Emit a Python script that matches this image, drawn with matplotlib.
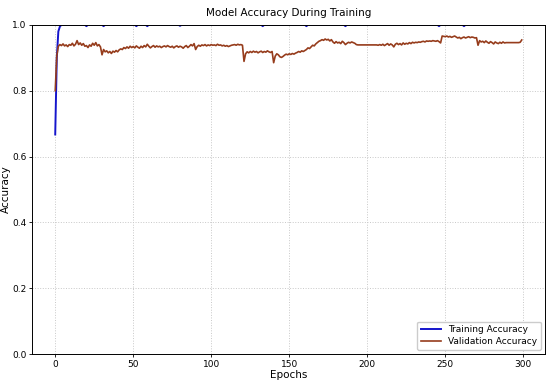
import matplotlib
matplotlib.use("Agg")
import matplotlib.pyplot as plt

epochs = list(range(300))

train_acc = [
    0.667, 0.900, 0.980, 0.995, 1.000, 1.000, 1.000, 1.000, 1.000, 1.000,
    1.000, 1.000, 1.000, 1.000, 1.000, 1.000, 1.000, 1.000, 1.000, 1.000,
    0.996, 1.000, 1.000, 1.000, 1.000, 1.000, 1.000, 1.000, 1.000, 1.000,
    1.000, 0.996, 1.000, 1.000, 1.000, 1.000, 1.000, 1.000, 1.000, 1.000,
    1.000, 1.000, 1.000, 1.000, 1.000, 1.000, 1.000, 1.000, 1.000, 1.000,
    1.000, 1.000, 0.996, 1.000, 1.000, 1.000, 1.000, 1.000, 1.000, 0.996,
    1.000, 1.000, 1.000, 1.000, 1.000, 1.000, 1.000, 1.000, 1.000, 1.000,
    1.000, 1.000, 1.000, 1.000, 1.000, 1.000, 1.000, 1.000, 1.000, 1.000,
    0.997, 1.000, 1.000, 1.000, 1.000, 1.000, 1.000, 1.000, 1.000, 1.000,
    1.000, 1.000, 1.000, 1.000, 1.000, 1.000, 1.000, 1.000, 1.000, 1.000,
    1.000, 1.000, 1.000, 1.000, 1.000, 1.000, 1.000, 1.000, 1.000, 1.000,
    1.000, 1.000, 1.000, 1.000, 1.000, 1.000, 1.000, 1.000, 1.000, 1.000,
    1.000, 1.000, 1.000, 1.000, 1.000, 1.000, 1.000, 1.000, 1.000, 1.000,
    1.000, 1.000, 1.000, 0.996, 1.000, 1.000, 1.000, 1.000, 1.000, 1.000,
    1.000, 1.000, 1.000, 1.000, 1.000, 1.000, 1.000, 1.000, 1.000, 1.000,
    1.000, 1.000, 1.000, 1.000, 1.000, 1.000, 1.000, 1.000, 1.000, 1.000,
    1.000, 0.996, 1.000, 1.000, 1.000, 1.000, 1.000, 1.000, 1.000, 1.000,
    1.000, 1.000, 1.000, 1.000, 1.000, 1.000, 1.000, 1.000, 1.000, 1.000,
    1.000, 1.000, 1.000, 1.000, 1.000, 1.000, 0.996, 1.000, 1.000, 1.000,
    1.000, 1.000, 1.000, 1.000, 1.000, 1.000, 1.000, 1.000, 1.000, 1.000,
    1.000, 1.000, 1.000, 1.000, 1.000, 1.000, 1.000, 1.000, 1.000, 1.000,
    1.000, 1.000, 1.000, 1.000, 1.000, 1.000, 1.000, 1.000, 1.000, 1.000,
    1.000, 1.000, 1.000, 1.000, 1.000, 1.000, 1.000, 1.000, 1.000, 1.000,
    1.000, 1.000, 1.000, 1.000, 1.000, 1.000, 1.000, 1.000, 1.000, 1.000,
    1.000, 1.000, 1.000, 1.000, 1.000, 1.000, 0.996, 1.000, 1.000, 1.000,
    1.000, 1.000, 1.000, 1.000, 1.000, 1.000, 1.000, 1.000, 1.000, 1.000,
    1.000, 1.000, 0.996, 1.000, 1.000, 1.000, 1.000, 1.000, 1.000, 1.000,
    1.000, 1.000, 1.000, 1.000, 1.000, 1.000, 1.000, 1.000, 1.000, 1.000,
    1.000, 1.000, 1.000, 1.000, 1.000, 1.000, 1.000, 1.000, 1.000, 1.000,
    1.000, 1.000, 1.000, 1.000, 1.000, 1.000, 1.000, 1.000, 1.000, 1.000,
]

val_acc = [
    0.800, 0.905, 0.935, 0.940, 0.937, 0.942, 0.936, 0.939, 0.934, 0.940,
    0.938, 0.944, 0.936, 0.941, 0.952, 0.940, 0.945, 0.938, 0.943, 0.935,
    0.937, 0.931, 0.939, 0.935, 0.944, 0.938, 0.946, 0.936, 0.940, 0.933,
    0.909, 0.925, 0.918, 0.921, 0.915, 0.919, 0.913, 0.920, 0.917, 0.922,
    0.918, 0.924, 0.927, 0.925, 0.931, 0.928, 0.933, 0.929, 0.935, 0.931,
    0.934, 0.930, 0.936, 0.932, 0.929, 0.935, 0.931, 0.937, 0.933, 0.941,
    0.935, 0.930, 0.934, 0.937, 0.932, 0.936, 0.933, 0.935, 0.931, 0.934,
    0.936, 0.933, 0.937, 0.934, 0.932, 0.935, 0.930, 0.934, 0.936, 0.932,
    0.935, 0.933, 0.929, 0.934, 0.937, 0.931, 0.935, 0.940, 0.936, 0.943,
    0.925, 0.934, 0.938, 0.935, 0.939, 0.937, 0.940, 0.936, 0.939, 0.937,
    0.940, 0.938, 0.939, 0.937, 0.941, 0.938, 0.939, 0.936, 0.938, 0.935,
    0.937, 0.934, 0.936, 0.938, 0.939, 0.940, 0.938, 0.941, 0.939, 0.940,
    0.938, 0.889, 0.912, 0.918, 0.915, 0.919, 0.916, 0.920, 0.917, 0.919,
    0.915, 0.918, 0.920, 0.916, 0.919, 0.917, 0.921, 0.918, 0.916, 0.919,
    0.885, 0.905, 0.912, 0.909, 0.903, 0.901, 0.904, 0.908, 0.911, 0.909,
    0.912, 0.910, 0.913, 0.911, 0.914, 0.916, 0.919, 0.917, 0.921, 0.919,
    0.922, 0.925, 0.930, 0.928, 0.933, 0.938, 0.936, 0.942, 0.946, 0.950,
    0.952, 0.955, 0.953, 0.957, 0.954, 0.956, 0.951, 0.955, 0.948, 0.944,
    0.949, 0.945, 0.947, 0.943, 0.950, 0.946, 0.940, 0.944, 0.947, 0.945,
    0.948, 0.946, 0.944, 0.940, 0.939, 0.939, 0.939, 0.939, 0.939, 0.939,
    0.939, 0.939, 0.939, 0.939, 0.939, 0.939, 0.939, 0.938, 0.940, 0.938,
    0.941, 0.937, 0.940, 0.943, 0.938, 0.942, 0.939, 0.933, 0.941, 0.944,
    0.940, 0.943, 0.939, 0.945, 0.941, 0.944, 0.942, 0.946, 0.943, 0.947,
    0.945, 0.947, 0.946, 0.948, 0.947, 0.949, 0.950, 0.948, 0.951, 0.950,
    0.951, 0.950, 0.952, 0.951, 0.950, 0.952, 0.949, 0.945, 0.966, 0.965,
    0.964, 0.966, 0.963, 0.965, 0.962, 0.964, 0.966, 0.963, 0.960, 0.962,
    0.958, 0.961, 0.963, 0.960, 0.962, 0.964, 0.961, 0.963, 0.962, 0.960,
    0.961, 0.938, 0.952, 0.948, 0.950, 0.946, 0.951, 0.947, 0.944, 0.949,
    0.946, 0.942, 0.948, 0.945, 0.943, 0.947, 0.944, 0.948, 0.945, 0.946,
    0.946, 0.946, 0.946, 0.946, 0.946, 0.946, 0.946, 0.946, 0.947, 0.954,
]

title = "Model Accuracy During Training"
x_label = "Epochs"
y_label = "Accuracy"
train_label = "Training Accuracy"
val_label = "Validation Accuracy"

fig, ax = plt.subplots(figsize=(5.5, 3.82), dpi=100)
fig.subplots_adjust(left=0.058, right=0.991, top=0.935, bottom=0.073)

ax.plot(epochs, train_acc, color="#1515cc", linewidth=1.4, label=train_label)
ax.plot(epochs, val_acc, color="#963c1c", linewidth=1.2, label=val_label)

ax.set_ylim(0.0, 1.0)
ax.set_title(title, fontsize=7.5, pad=6)
ax.set_xlabel(x_label, fontsize=7.5, labelpad=1)
ax.set_ylabel(y_label, fontsize=7.5, labelpad=1)
ax.tick_params(axis="both", labelsize=6.5, length=2.5, width=0.6, pad=1.5)
ax.grid(True, linestyle=":", color="#c8c8c8", linewidth=0.7)
for s in ax.spines.values():
    s.set_linewidth(0.7)
ax.legend(loc="lower right", fontsize=6.5, handlelength=2.2, framealpha=1.0,
          borderpad=0.4, labelspacing=0.3)

fig.savefig("out.png", dpi=100)
